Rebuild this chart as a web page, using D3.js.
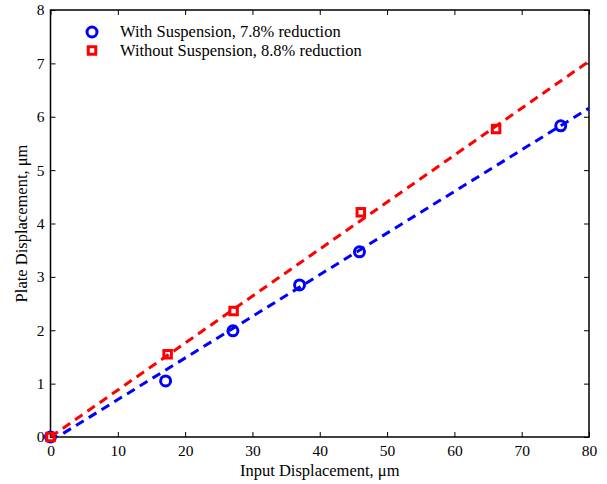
<!DOCTYPE html>
<html>
<head>
<meta charset="utf-8">
<script src="https://cdn.jsdelivr.net/npm/d3@7"></script>
<style>
  body { margin: 0; background: #fff; }
  svg text { font-family: "Liberation Serif", "DejaVu Serif", serif; fill: #000; }
</style>
</head>
<body>
<svg id="chart" width="607" height="484"></svg>
<script>
// measured points
const withX = [0, 17.1, 27.1, 37, 45.9, 75.8];
const withY = [0, 1.05, 1.99, 2.85, 3.47, 5.83];
const withoutX = [0, 17.4, 27.2, 46.1, 66.2];
const withoutY = [0, 1.55, 2.36, 4.21, 5.77];

// linear fits (slope, intercept)
const withFit = [0.078, -0.08];
const withoutFit = [0.088, 0.0];

const xTicks = [0, 10, 20, 30, 40, 50, 60, 70, 80];
const yTicks = [0, 1, 2, 3, 4, 5, 6, 7, 8];
const legendLabels = ['With Suspension, 7.8% reduction', 'Without Suspension, 8.8% reduction'];

const margin = { left: 50.5, top: 10, right: 18, bottom: 47 };
const width = 607, height = 484;

const svg = d3.select('#chart');
const x = d3.scaleLinear().domain([0, 80]).range([margin.left, width - margin.right]);
const y = d3.scaleLinear().domain([0, 8]).range([height - margin.bottom, margin.top]);

svg.append('defs').append('clipPath').attr('id', 'clip')
    .append('rect')
    .attr('x', x(0)).attr('y', y(8))
    .attr('width', x(80) - x(0)).attr('height', y(0) - y(8));

// axes, MATLAB-style box with inward ticks
const tickLen = 5;
function styleAxis(g) {
    g.select('.domain').remove();
    g.selectAll('.tick line').attr('stroke', '#000').attr('stroke-width', 1);
    g.selectAll('.tick text').style('font-size', '15.5px');
}
svg.append('g').attr('transform', `translate(0,${y(0)})`)
    .call(d3.axisBottom(x).tickValues(xTicks).tickSize(-tickLen).tickPadding(8).tickFormat(d3.format('d')))
    .call(styleAxis);
svg.append('g').attr('transform', `translate(0,${y(8)})`)
    .call(d3.axisTop(x).tickValues(xTicks).tickSize(-tickLen).tickFormat(''))
    .call(styleAxis);
svg.append('g').attr('transform', `translate(${x(0)},0)`)
    .call(d3.axisLeft(y).tickValues(yTicks).tickSize(-tickLen).tickPadding(6).tickFormat(d3.format('d')))
    .call(styleAxis);
svg.append('g').attr('transform', `translate(${x(80)},0)`)
    .call(d3.axisRight(y).tickValues(yTicks).tickSize(-tickLen).tickFormat(''))
    .call(styleAxis);

svg.append('rect')
    .attr('x', x(0)).attr('y', y(8))
    .attr('width', x(80) - x(0)).attr('height', y(0) - y(8))
    .attr('fill', 'none').attr('stroke', '#000').attr('stroke-width', 1.5);

// fit lines
const plot = svg.append('g').attr('clip-path', 'url(#clip)');
const fits = [[withFit, '#0000ff'], [withoutFit, '#ff0000']];
fits.forEach(([f, c]) => {
    plot.append('line')
        .attr('x1', x(0)).attr('y1', y(f[1]))
        .attr('x2', x(80)).attr('y2', y(f[0] * 80 + f[1]))
        .attr('stroke', c).attr('stroke-width', 3)
        .attr('stroke-dasharray', '9,6');
});

// markers
const sq = 7.5;
const pts = svg.append('g');
pts.selectAll('circle.with')
    .data(d3.zip(withX, withY))
    .join('circle')
    .attr('class', 'with')
    .attr('cx', d => x(d[0])).attr('cy', d => y(d[1]))
    .attr('r', 5)
    .attr('fill', 'none').attr('stroke', '#0000ff').attr('stroke-width', 3);
pts.selectAll('rect.without')
    .data(d3.zip(withoutX, withoutY))
    .join('rect')
    .attr('class', 'without')
    .attr('x', d => x(d[0]) - sq / 2).attr('y', d => y(d[1]) - sq / 2)
    .attr('width', sq).attr('height', sq)
    .attr('fill', 'none').attr('stroke', '#ff0000').attr('stroke-width', 3);

// legend
const lg = svg.append('g');
lg.append('circle').attr('cx', 92).attr('cy', 32).attr('r', 5)
    .attr('fill', 'none').attr('stroke', '#0000ff').attr('stroke-width', 3);
lg.append('rect').attr('x', 92 - sq / 2).attr('y', 50.5 - sq / 2).attr('width', sq).attr('height', sq)
    .attr('fill', 'none').attr('stroke', '#ff0000').attr('stroke-width', 3);
legendLabels.forEach((t, i) => {
    lg.append('text').attr('x', 120).attr('y', 37 + i * 19)
        .style('font-size', '16.5px').text(t);
});

// axis labels
svg.append('text')
    .attr('x', (x(0) + x(80)) / 2).attr('y', 476)
    .attr('text-anchor', 'middle').style('font-size', '16.5px')
    .text('Input Displacement, \u03bcm');
svg.append('text')
    .attr('transform', `translate(27,${(y(0) + y(8)) / 2}) rotate(-90)`)
    .attr('text-anchor', 'middle').style('font-size', '16.5px')
    .text('Plate Displacement, \u03bcm');
</script>
</body>
</html>
